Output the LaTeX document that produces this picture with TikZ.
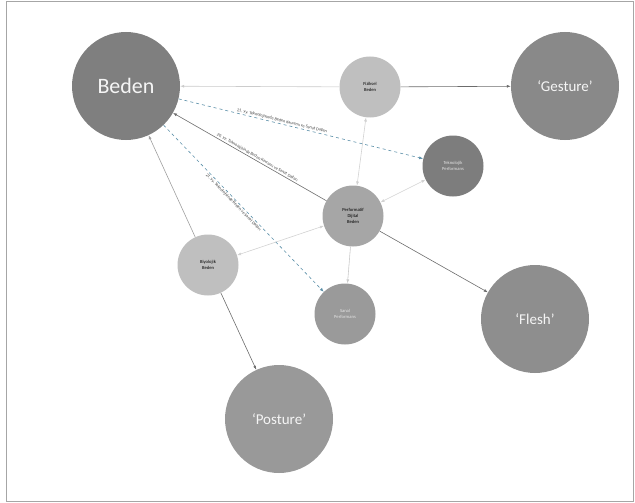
\documentclass[tikz,border=0pt]{standalone}
\usepackage{xcolor}
\usepackage{fontspec}
\setmainfont{Carlito}
\usepackage{tikz}
\usetikzlibrary{arrows.meta,calc}
\definecolor{cbeden}{HTML}{7F7F7F}
\definecolor{cgest}{HTML}{898989}
\definecolor{cflesh}{HTML}{8E8E8E}
\definecolor{cpost}{HTML}{999999}
\definecolor{clight}{HTML}{BFBFBF}
\definecolor{cmid}{HTML}{A6A6A6}
\definecolor{cdark}{HTML}{7D7D7D}
\definecolor{cbot}{HTML}{9A9A9A}
\definecolor{blueln}{HTML}{5B8FA8}
\tikzstyle{bigc}=[circle, draw=none,% big grey discs
minimum size=108pt, inner sep=0pt, text=white!92!gray, font=\fontsize{15}{16}\selectfont]
\tikzstyle{smallc}=[circle, draw=none,% small discs with tiny text
minimum size=61pt, inner sep=0pt, align=center, font=\fontsize{4.6}{5.6}\selectfont]
\tikzstyle{dgraph}=[-{Latex[length=4pt,width=3pt]}, line width=0.6pt]
\tikzstyle{lightln}=[dgraph, draw=gray!40, fill=gray!40]
\tikzstyle{bothln}=[{Latex[length=4pt,width=3pt]}-{Latex[length=4pt,width=3pt]}, line width=0.6pt, draw=gray!35]
\tikzstyle{darkln}=[dgraph, draw=gray!85!black]
\tikzstyle{midln}=[dgraph, draw=gray!75]
\tikzstyle{bluedash}=[dgraph, draw=blueln, dashed]
\tikzstyle{lbl}=[sloped, inner sep=1pt, text=black!75, font=\fontsize{4.3}{5}\selectfont]

\begin{document}
\begin{tikzpicture}[x=1pt,y=-1pt]
\useasboundingbox (0,0) rectangle (635,503);
\draw[gray!70, line width=0.8pt] (6,1) rectangle (633.5,501.5);
% big discs
\node[bigc, fill=cbeden, font=\fontsize{22}{24}\selectfont] (beden) at (126,86) {Beden};
\node[bigc, fill=cgest] (gesture) at (565,86) {‘Gesture’};
\node[bigc, fill=cflesh] (flesh) at (535,319) {‘Flesh’};
\node[bigc, fill=cpost] (posture) at (279,419) {‘Posture’};
% small discs
\node[smallc, fill=clight] (fiziksel) at (370,87) {Fiziksel\\Beden};
\node[smallc, fill=cdark, text=white!80!gray] (teknolojik) at (453,166) {Teknolojik\\Performans};
\node[smallc, fill=cmid] (perf) at (353,216) {Performatif\\Dijital\\Beden};
\node[smallc, fill=clight] (biyo) at (208,265) {Biyolojik\\Beden};
\node[smallc, fill=cbot, text=white!80!gray] (sanal) at (345,314) {Sanal\\Performans};
% connectors
\draw[lightln] (fiziksel) -- (beden);
\draw[darkln] (fiziksel) -- (gesture);
\draw[bothln] (perf) -- (fiziksel);
\draw[bothln] (perf) -- (teknolojik);
\draw[bothln] (perf) -- (biyo);
\draw[lightln] (perf) -- (sanal);
\draw[darkln] (perf) -- (flesh);
\draw[midln] (biyo) -- (beden);
\draw[darkln] (biyo) -- (posture);
% labelled connectors
\draw[bluedash] (beden) -- (teknolojik)
  node[lbl, above, pos=0.42] {21. yy. Teknolojisinde Beden Kavramı ve Sanat Dalları};
\draw[darkln] (perf) -- (beden)
  node[lbl, above, pos=0.46] {20. yy. Teknolojisinde Beden Kavramı ve Sanat Dalları};
\draw[bluedash] (beden) -- (sanal)
  node[lbl, below, pos=0.45] {21. yy. Teknolojisinde Beden ve Sanat Dalları};
\end{tikzpicture}
\end{document}
